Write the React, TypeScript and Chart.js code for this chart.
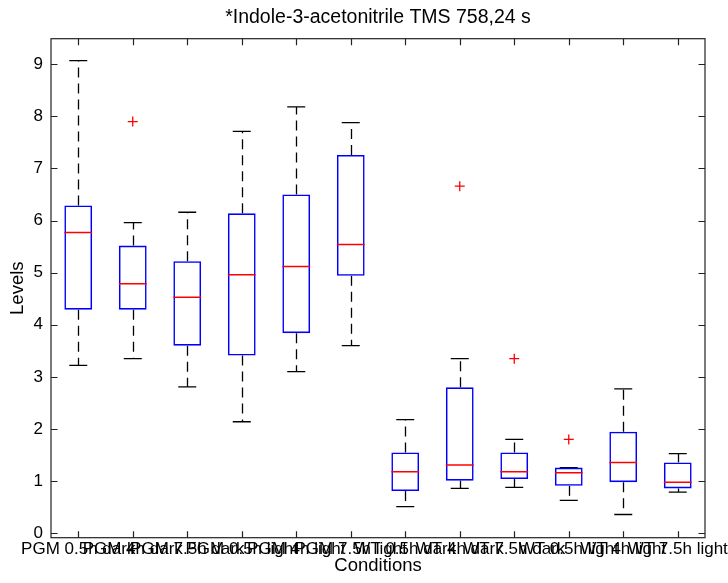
import React, { useEffect, useRef } from "react";
import { Chart, registerables } from "chart.js";

Chart.register(...registerables);

const categories = [
  "PGM 0.5h dark",
  "PGM 4h dark",
  "PGM 7.5h dark",
  "PGM 0.5h light",
  "PGM 4h light",
  "PGM 7.5h light",
  "WT 0.5h dark",
  "WT 4h dark",
  "WT 7.5h dark",
  "WT 0.5h light",
  "WT 4h light",
  "WT 7.5h light",
];

const q1 = [4.29, 4.29, 3.6, 3.41, 3.84, 4.94, 0.81, 1.01, 1.04, 0.91, 0.98, 0.86];
const median = [5.77, 4.79, 4.53, 4.96, 5.12, 5.54, 1.18, 1.31, 1.18, 1.16, 1.36, 0.98];
const q3 = [6.29, 5.52, 5.22, 6.14, 6.5, 7.26, 1.55, 2.8, 1.55, 1.26, 1.95, 1.36];
const whiskerLow = [3.22, 3.35, 2.81, 2.14, 3.1, 3.6, 0.51, 0.86, 0.88, 0.63, 0.36, 0.79];
const whiskerHigh = [9.07, 5.96, 6.16, 7.71, 8.18, 7.88, 2.18, 3.35, 1.8, 1.26, 2.77, 1.53];
const outliers: (number | null)[] = [null, 7.9, null, null, null, null, null, 6.66, 3.35, 1.8, null, null];

const yTicks = [0, 1, 2, 3, 4, 5, 6, 7, 8, 9];

const FONT = "'Liberation Sans', Arial, Helvetica, sans-serif";

const decorPlugin = {
  id: "boxDecor",
  beforeDatasetsDraw(chart: any) {
    const { ctx, scales } = chart;
    const x = scales.x;
    const y = scales.y;
    ctx.save();
    ctx.strokeStyle = "#000";
    ctx.lineWidth = 1.3;
    ctx.setLineDash([10, 6]);
    categories.forEach((_c, i) => {
      const px = Math.round(x.getPixelForValue(i)) + 0.5;
      ctx.beginPath();
      ctx.moveTo(px, y.getPixelForValue(q3[i]));
      ctx.lineTo(px, y.getPixelForValue(whiskerHigh[i]));
      ctx.stroke();
      ctx.beginPath();
      ctx.moveTo(px, y.getPixelForValue(q1[i]));
      ctx.lineTo(px, y.getPixelForValue(whiskerLow[i]));
      ctx.stroke();
    });
    ctx.restore();
  },
  afterDraw(chart: any) {
    const { ctx, chartArea, scales } = chart;
    const { left, right, top, bottom } = chartArea;
    const x = scales.x;
    const y = scales.y;
    const tl = 6.5;
    ctx.save();
    ctx.strokeStyle = "#222";
    ctx.lineWidth = 1.2;
    ctx.setLineDash([]);
    ctx.strokeRect(left, top, right - left, bottom - top);
    ctx.beginPath();
    categories.forEach((_c, i) => {
      const px = Math.round(x.getPixelForValue(i)) + 0.5;
      ctx.moveTo(px, bottom);
      ctx.lineTo(px, bottom - tl);
      ctx.moveTo(px, top);
      ctx.lineTo(px, top + tl);
    });
    yTicks.forEach((v) => {
      const py = Math.round(y.getPixelForValue(v)) + 0.5;
      ctx.moveTo(left, py);
      ctx.lineTo(left + tl, py);
      ctx.moveTo(right, py);
      ctx.lineTo(right - tl, py);
    });
    ctx.stroke();
    ctx.restore();
  },
};

export default function App() {
  const canvasRef = useRef<HTMLCanvasElement | null>(null);

  useEffect(() => {
    if (!canvasRef.current) return;
    const chart = new Chart(canvasRef.current, {
      type: "bar",
      data: {
        labels: categories,
        datasets: [
          {
            type: "line",
            label: "upper cap",
            data: whiskerHigh,
            showLine: false,
            pointStyle: "line",
            pointRadius: 9,
            borderColor: "#000",
            borderWidth: 1.3,
            order: 4,
          } as any,
          {
            type: "line",
            label: "lower cap",
            data: whiskerLow,
            showLine: false,
            pointStyle: "line",
            pointRadius: 9,
            borderColor: "#000",
            borderWidth: 1.3,
            order: 4,
          } as any,
          {
            type: "bar",
            label: "box",
            data: categories.map((_c, i) => [q1[i], q3[i]]),
            backgroundColor: "rgba(0,0,0,0)",
            borderColor: "#0000ff",
            borderWidth: 1.6,
            borderSkipped: false,
            barPercentage: 0.51,
            categoryPercentage: 1,
            order: 3,
          } as any,
          {
            type: "line",
            label: "median",
            data: median,
            showLine: false,
            pointStyle: "line",
            pointRadius: 13.9,
            borderColor: "#ff0000",
            borderWidth: 1.5,
            order: 2,
          } as any,
          {
            type: "line",
            label: "outliers",
            data: outliers,
            showLine: false,
            pointStyle: "cross",
            pointRadius: 5,
            borderColor: "#ff0000",
            borderWidth: 1.3,
            order: 1,
          } as any,
        ],
      },
      options: {
        responsive: false,
        animation: false,
        events: [],
        layout: { padding: { left: 0, right: 23, top: 0, bottom: 0 } },
        plugins: {
          legend: { display: false },
          tooltip: { enabled: false },
          title: {
            display: true,
            fullSize: false,
            text: "*Indole-3-acetonitrile TMS 758,24 s",
            color: "#000",
            font: { family: FONT, size: 19.5, weight: "normal", lineHeight: 1.2 },
            padding: { top: 6.3, bottom: 9.0 },
          },
        },
        scales: {
          x: {
            type: "category",
            offset: true,
            grid: { display: false, drawTicks: false },
            border: { display: false },
            ticks: {
              autoSkip: false,
              maxRotation: 0,
              minRotation: 0,
              color: "#000",
              padding: 1,
              font: { family: FONT, size: 17 },
            },
            title: {
              display: true,
              text: "Conditions",
              color: "#000",
              font: { family: FONT, size: 18.5 },
              padding: { top: 0, bottom: 5.5 },
            },
            afterFit: (s: any) => {
              s.height = 45.3;
              s.paddingLeft = 0;
              s.paddingRight = 0;
            },
          },
          y: {
            type: "linear",
            min: -0.085,
            max: 9.49,
            grid: { display: false, drawTicks: false },
            border: { display: false },
            ticks: {
              stepSize: 1,
              includeBounds: false,
              color: "#000",
              padding: 8,
              font: { family: FONT, size: 17 },
            },
            title: {
              display: true,
              text: "Levels",
              color: "#000",
              font: { family: FONT, size: 18.5 },
              padding: { top: 6.5, bottom: 0 },
            },
            afterFit: (s: any) => {
              s.width = 51;
              s.paddingTop = 0;
              s.paddingBottom = 0;
            },
          },
        },
      } as any,
      plugins: [decorPlugin],
    });
    return () => chart.destroy();
  }, []);

  return (
    <div style={{ position: "fixed", left: 0, top: 0, width: 728, height: 583, background: "#fff" }}>
      <canvas ref={canvasRef} width={728} height={583} />
    </div>
  );
}
